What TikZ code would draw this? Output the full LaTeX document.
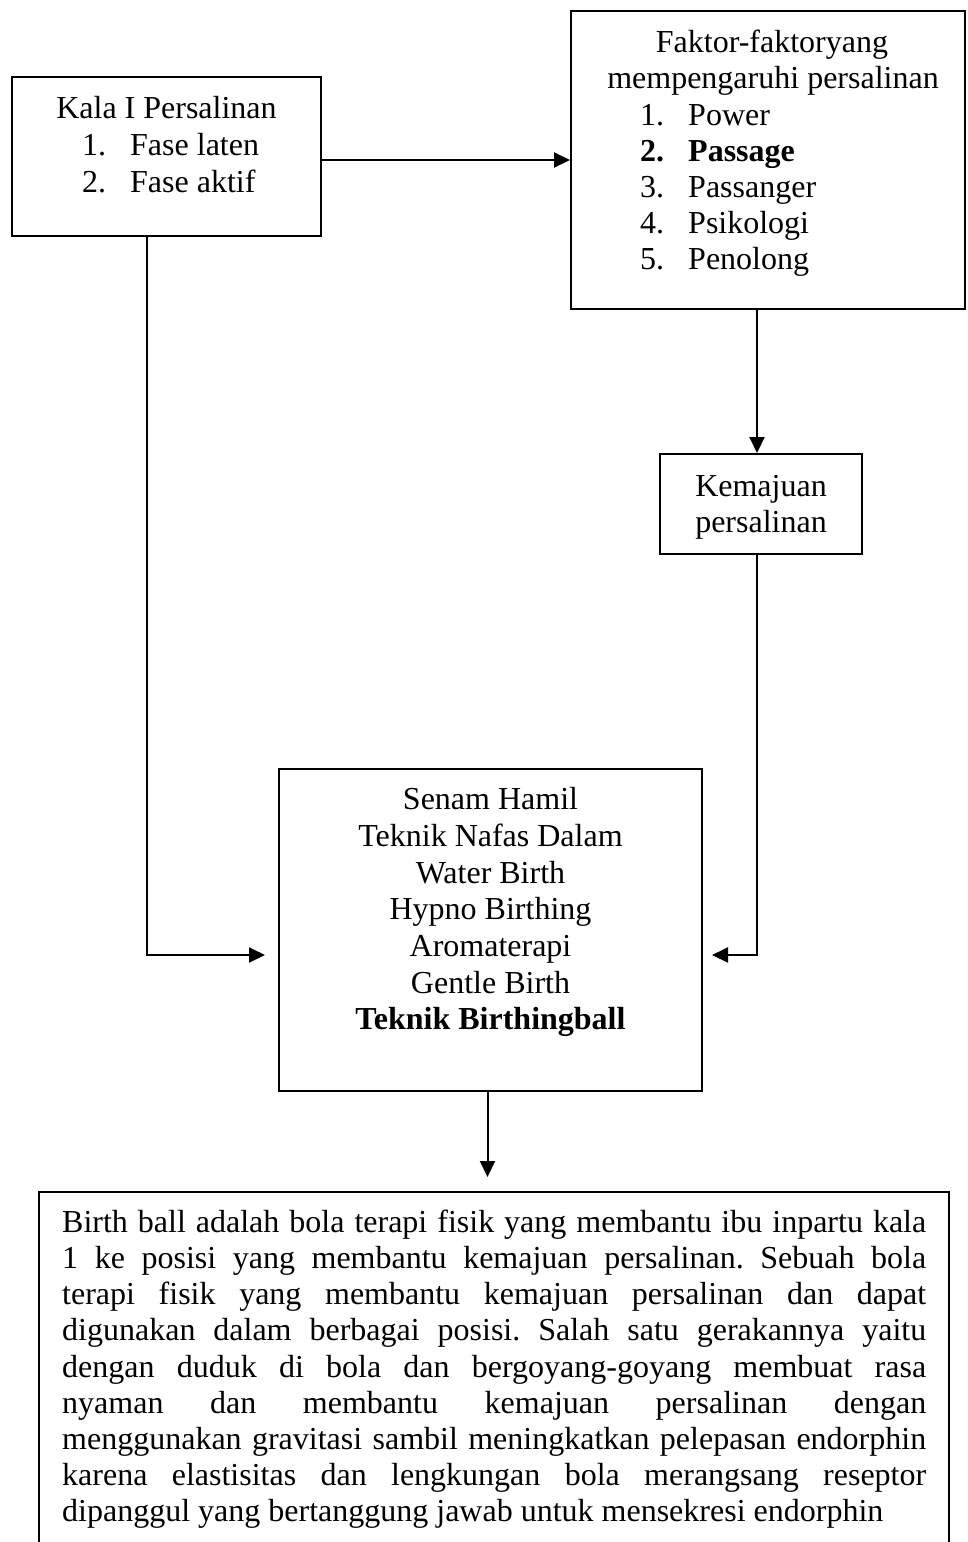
\documentclass[tikz,border=0pt]{standalone}
\usepackage{fontspec}
\setmainfont{Liberation Serif}
\usetikzlibrary{arrows.meta}
\frenchspacing
\begin{document}
\begin{tikzpicture}[x=1pt,y=-1pt,
  box/.style={draw,line width=2pt,rectangle,inner sep=0pt},
  arr/.style={line width=2pt,-{Triangle[length=16pt,width=15pt]}},
  txt/.style={inner sep=0pt,font=\fontsize{32}{36.5}\selectfont},
  ctr/.style={txt,anchor=base},
  lft/.style={txt,anchor=base west}]
\useasboundingbox (0,0) rectangle (967,1542);
\clip (0,0) rectangle (967,1542);
% boxes
\node[box,minimum width=309pt,minimum height=159pt] (A) at (166.5,156.5) {};
\node[box,minimum width=394pt,minimum height=298pt] (B) at (768,160) {};
\node[box,minimum width=202pt,minimum height=100pt] (C) at (761,504) {};
\node[box,minimum width=423pt,minimum height=322pt] (D) at (490.5,930) {};
\node[box,minimum width=910pt,minimum height=380pt] (E) at (494,1382) {};
% box A text
\node[ctr] (a0) at (166.5,118) {Kala I Persalinan};
\node[lft] (a1n) at (82,155) {1.};
\node[lft] (a1) at (130,155) {Fase laten};
\node[lft] (a2n) at (82,192) {2.};
\node[lft] (a2) at (130,192) {Fase aktif};
% box B text
\node[ctr] (b0) at (772,52) {Faktor-faktoryang};
\node[ctr] (b00) at (773,88) {mempengaruhi persalinan};
\node[lft] (b1n) at (640,125) {1.};
\node[lft] (b1) at (688,125) {Power};
\node[lft] (b2n) at (640,161) {\textbf{2.}};
\node[lft] (b2) at (688,161) {\textbf{Passage}};
\node[lft] (b3n) at (640,197) {3.};
\node[lft] (b3) at (688,197) {Passanger};
\node[lft] (b4n) at (640,233) {4.};
\node[lft] (b4) at (688,233) {Psikologi};
\node[lft] (b5n) at (640,269) {5.};
\node[lft] (b5) at (688,269) {Penolong};
% box C text
\node[ctr] (c1) at (761,496) {Kemajuan};
\node[ctr] (c2) at (761,532) {persalinan};
% box D text
\node[ctr] (d1) at (490.5,809) {Senam Hamil};
\node[ctr] (d2) at (490.5,846) {Teknik Nafas Dalam};
\node[ctr] (d3) at (490.5,883) {Water Birth};
\node[ctr] (d4) at (490.5,919) {Hypno Birthing};
\node[ctr] (d5) at (490.5,956) {Aromaterapi};
\node[ctr] (d6) at (490.5,993) {Gentle Birth};
\node[ctr] (d7) at (490.5,1029) {\textbf{Teknik Birthingball}};
% box E text
\node[txt,anchor=north west,text width=864pt,align=justify,font=\fontsize{32}{36.2}\selectfont] (e) at (62,1206.7) {\strut Birth ball adalah bola terapi fisik yang membantu ibu inpartu kala\linebreak
1 ke posisi yang membantu kemajuan persalinan. Sebuah bola\linebreak
terapi fisik yang membantu kemajuan persalinan dan dapat\linebreak
digunakan dalam berbagai posisi. Salah satu gerakannya yaitu\linebreak
dengan duduk di bola dan bergoyang-goyang membuat rasa\linebreak
nyaman dan membantu kemajuan persalinan dengan\linebreak
menggunakan gravitasi sambil meningkatkan pelepasan endorphin\linebreak
karena elastisitas dan lengkungan bola merangsang reseptor\linebreak
dipanggul yang bertanggung jawab untuk mensekresi endorphin};
% connectors
\draw[arr] (A.east |- B.west) -- (B.west);
\draw[arr] ([xshift=-4pt]C.north |- B.south) -- ([xshift=-4pt]C.north);
\draw[arr] ([xshift=-19.5pt]A.south) |- ([xshift=-13pt,yshift=-25pt]D.west);
\draw[arr] ([xshift=-4pt]C.south) |- ([xshift=9pt,yshift=-25pt]D.east);
\draw[arr] ([xshift=-3pt]D.south) -- ([xshift=-3pt,yshift=14pt]D.south |- E.north);
\end{tikzpicture}
\end{document}
